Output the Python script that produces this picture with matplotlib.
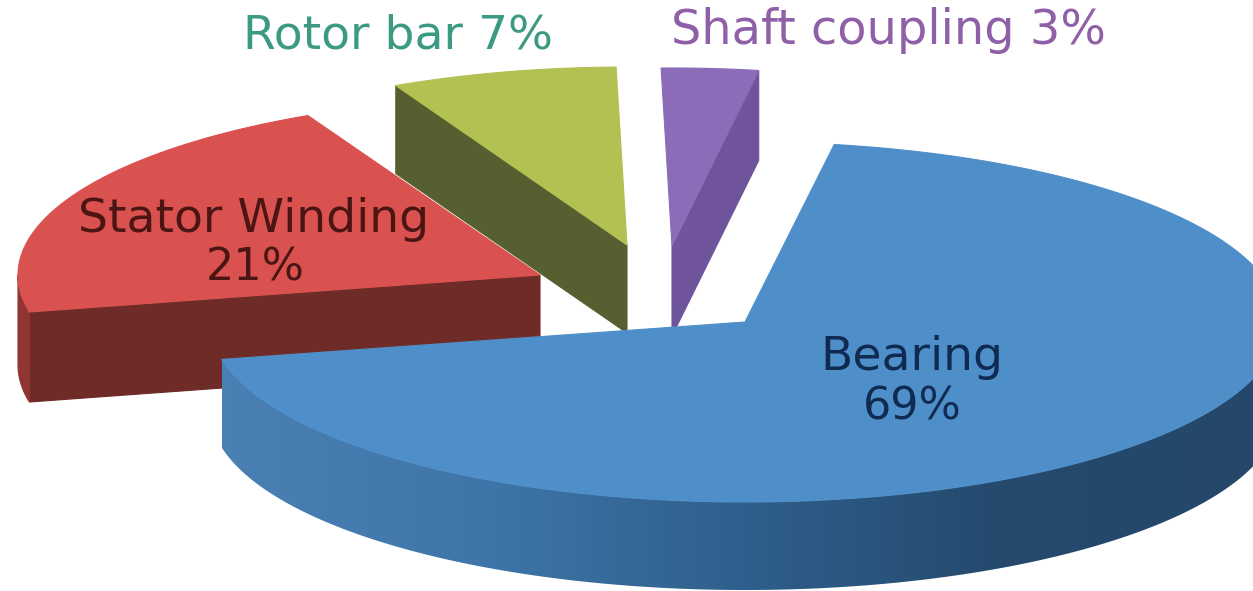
import numpy as np
import matplotlib
matplotlib.use("Agg")
import matplotlib.pyplot as plt
from matplotlib.colors import LinearSegmentedColormap
from matplotlib.patches import Polygon

# Fault share per motor component, percent
components = ["Bearing", "Stator Winding", "Rotor bar", "Shaft coupling"]
shares = [69, 21, 7, 3]

# Exploded slice apexes and pie geometry, in pixels
apexes = {"Bearing": (745, 322), "Stator Winding": (540, 275),
          "Rotor bar": (627, 245), "Shaft coupling": (672, 246)}
radii = {"Bearing": (535, 180), "Stator Winding": (522, 178),
         "Rotor bar": (520, 178), "Shaft coupling": (520, 178)}
DEPTH = {"Bearing": 88, "Stator Winding": 90, "Rotor bar": 88, "Shaft coupling": 90}
START_ANGLE = 80.4

plt.rcParams["font.family"] = ["DejaVu Sans"]
fig = plt.figure(figsize=(12.53, 5.91), dpi=100)
ax = fig.add_axes([0, 0, 1, 1])
ax.set_xlim(0, 1253)
ax.set_ylim(591, 0)
ax.axis("off")

# Slice spans run clockwise from the start angle
edges = START_ANGLE - np.concatenate([[0], np.cumsum(shares)]) * 3.6
spans = {name: (edges[i], edges[i + 1]) for i, name in enumerate(components)}


def rim(name, a0, a1, n=120):
    t = np.radians(np.linspace(a0, a1, n))
    cx, cy = apexes[name]
    rx, ry = radii[name]
    return np.column_stack([cx + rx * np.cos(t), cy - ry * np.sin(t)])


def fill(points, color, z):
    ax.add_patch(Polygon(points, closed=True, fc=color, ec=color, lw=0.8, zorder=z))


def shaded(points, colors, extent, z):
    patch = Polygon(points, closed=True, fc="none", ec="none", zorder=z)
    ax.add_patch(patch)
    cmap = LinearSegmentedColormap.from_list("shade", colors)
    grad = np.linspace(0, 1, 256).reshape(1, -1)
    im = ax.imshow(grad, extent=extent, cmap=cmap, aspect="auto", zorder=z,
                   interpolation="bilinear")
    im.set_clip_path(patch)


def side(top_a, top_b, depth):
    top_a, top_b = np.asarray(top_a, float), np.asarray(top_b, float)
    return [top_a, top_b, top_b + (0, depth), top_a + (0, depth)]


# Rotor bar: cut wall on its left, then top face
name = "Rotor bar"
a0, a1 = spans[name]
edge = rim(name, a0, a1)
apex = np.array(apexes[name])
fill(side(apex, edge[0], DEPTH[name]), "#565f30", 1)
fill(np.vstack([apex, edge]), "#b3c152", 2)

# Shaft coupling: darker right wall, then top face
name = "Shaft coupling"
a0, a1 = spans[name]
edge = rim(name, a0, a1)
apex = np.array(apexes[name])
fill(side(apex, edge[-1], DEPTH[name]), "#70549b", 1)
fill(np.vstack([apex, edge]), "#8a6cb8", 2)

# Stator winding: cut wall and short outer rim, then top face
name = "Stator Winding"
a0, a1 = spans[name]
edge = rim(name, a0, a1)
apex = np.array(apexes[name])
fill(side(apex, edge[0], DEPTH[name]), "#6e2b27", 3)
lower = edge[:20]
fill(np.vstack([lower, lower[::-1] + (0, DEPTH[name])]), "#8f3532", 3)
fill(np.vstack([apex, edge]), "#d9524f", 4)

# Bearing: shaded outer rim, then top face
name = "Bearing"
a0, a1 = spans[name]
edge = rim(name, a0, a1, 300)
apex = np.array(apexes[name])
front = rim(name, a1, 0, 300)
shaded(np.vstack([front, front[::-1] + (0, DEPTH[name])]),
       ["#4b80b5", "#3f75a8", "#2f5f8c", "#244a6d", "#24476a"],
       (222, 1265, 591, 300), 5)
fill(np.vstack([apex, edge]), "#4f8fc9", 6)

# Labels
lbl = dict(ha="center", va="center", zorder=8)
ax.text(398, 36, f"{components[2]} {shares[2]}%", color="#3d9a82", fontsize=34, **lbl)
ax.text(888, 30, f"{components[3]} {shares[3]}%", color="#8f5fa8", fontsize=34.5, **lbl)
ax.text(254, 220, components[1], color="#4a1512", fontsize=34, **lbl)
ax.text(255, 268, f"{shares[1]}%", color="#4a1512", fontsize=32, **lbl)
ax.text(912, 358, components[0], color="#0f2b52", fontsize=34, **lbl)
ax.text(912, 407, f"{shares[0]}%", color="#0f2b52", fontsize=32, **lbl)

fig.savefig("out.png", dpi=100)
